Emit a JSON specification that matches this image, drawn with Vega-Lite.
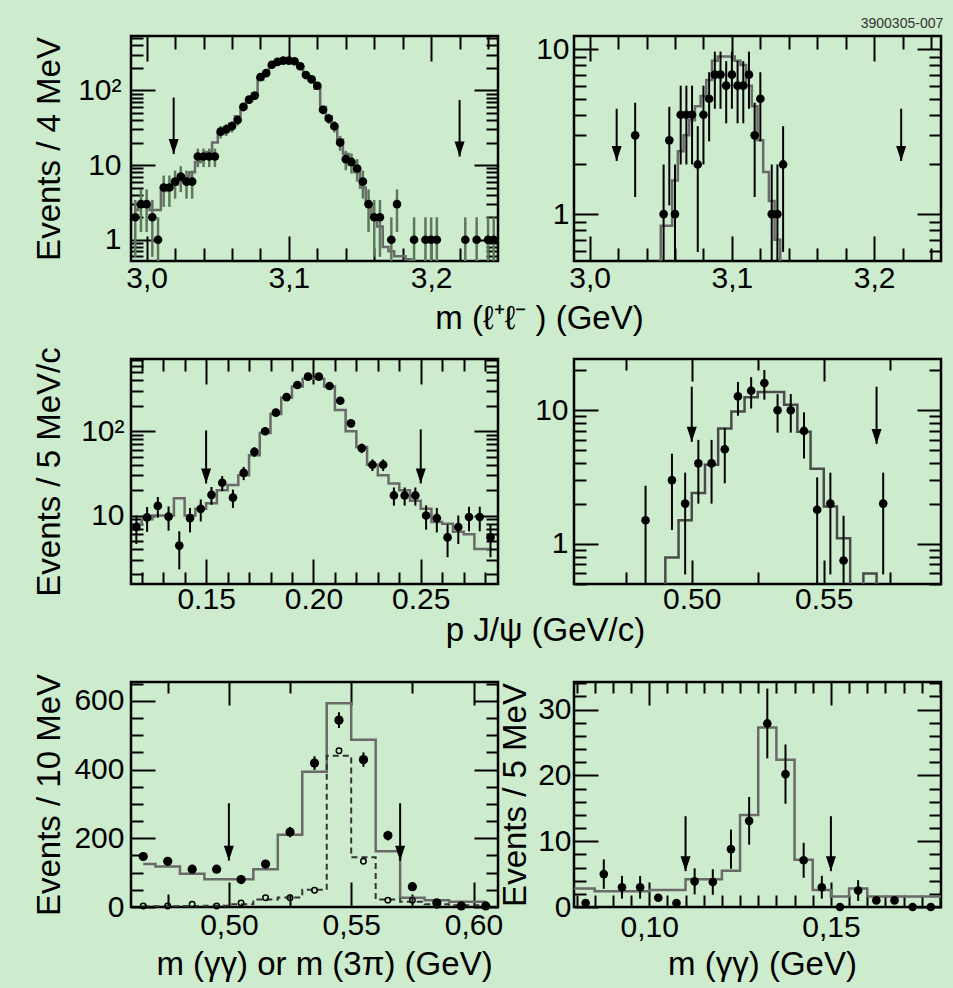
{
"$schema": "https://vega.github.io/schema/vega-lite/v6.json",
"background": "#cdeccd",
"padding": {"left": 31, "top": 16, "right": 12, "bottom": 8},
"title": {"text": "3900305-007", "anchor": "end", "fontSize": 14, "fontWeight": "normal", "font": "Liberation Sans", "color": "#333333", "offset": -9},
"columns": 2,
"spacing": {"row": 98, "column": 76},
"bounds": "flush",
"datasets": {
"p1": [
{"x":2.992,"v":2,"lo":0.59,"hi":3.41,"mc":2.5},
{"x":2.996,"v":3,"lo":1.27,"hi":4.73,"mc":2.8},
{"x":3.0,"v":3,"lo":1.27,"hi":4.73,"mc":2.8},
{"x":3.004,"v":2,"lo":0.59,"hi":3.41,"mc":2.5},
{"x":3.008,"v":1,"lo":0.01,"hi":2,"mc":2.5},
{"x":3.012,"v":5,"lo":2.76,"hi":7.24,"mc":4.5},
{"x":3.016,"v":5,"lo":2.76,"hi":7.24,"mc":5},
{"x":3.02,"v":6,"lo":3.55,"hi":8.45,"mc":5.5},
{"x":3.024,"v":7,"lo":4.35,"hi":9.65,"mc":6},
{"x":3.028,"v":6,"lo":3.55,"hi":8.45,"mc":7},
{"x":3.032,"v":6,"lo":3.55,"hi":8.45,"mc":8},
{"x":3.036,"v":13,"lo":9.39,"hi":16.61,"mc":11},
{"x":3.04,"v":13,"lo":9.39,"hi":16.61,"mc":13},
{"x":3.044,"v":13,"lo":9.39,"hi":16.61,"mc":15},
{"x":3.048,"v":13,"lo":9.39,"hi":16.61,"mc":20},
{"x":3.052,"v":28,"lo":22.7,"hi":33.3,"mc":26},
{"x":3.056,"v":30,"lo":24.5,"hi":35.5,"mc":30},
{"x":3.06,"v":33,"lo":27.3,"hi":38.7,"mc":36},
{"x":3.064,"v":40,"lo":33.7,"hi":46.3,"mc":45},
{"x":3.068,"v":60,"lo":52.3,"hi":67.7,"mc":58},
{"x":3.072,"v":75,"lo":66.3,"hi":83.7,"mc":72},
{"x":3.076,"v":85,"lo":75.8,"hi":94.2,"mc":90},
{"x":3.08,"v":150,"lo":137.8,"hi":162.2,"mc":140},
{"x":3.084,"v":170,"lo":157,"hi":183,"mc":165},
{"x":3.088,"v":220,"lo":205.2,"hi":234.8,"mc":215},
{"x":3.092,"v":240,"lo":224.5,"hi":255.5,"mc":240},
{"x":3.096,"v":250,"lo":234.2,"hi":265.8,"mc":250},
{"x":3.1,"v":250,"lo":234.2,"hi":265.8,"mc":250},
{"x":3.104,"v":245,"lo":229.3,"hi":260.7,"mc":240},
{"x":3.108,"v":210,"lo":195.5,"hi":224.5,"mc":205},
{"x":3.112,"v":160,"lo":147.4,"hi":172.6,"mc":165},
{"x":3.116,"v":140,"lo":128.2,"hi":151.8,"mc":135},
{"x":3.12,"v":115,"lo":104.3,"hi":125.7,"mc":105},
{"x":3.124,"v":55,"lo":47.6,"hi":62.4,"mc":60},
{"x":3.128,"v":42,"lo":35.5,"hi":48.5,"mc":45},
{"x":3.132,"v":33,"lo":27.3,"hi":38.7,"mc":32},
{"x":3.136,"v":20,"lo":15.5,"hi":24.5,"mc":22},
{"x":3.14,"v":12,"lo":8.5,"hi":15.5,"mc":14},
{"x":3.144,"v":11,"lo":7.7,"hi":14.3,"mc":10},
{"x":3.148,"v":9,"lo":6,"hi":12,"mc":8},
{"x":3.152,"v":6,"lo":3.55,"hi":8.45,"mc":5},
{"x":3.156,"v":3,"lo":1.27,"hi":4.73,"mc":3},
{"x":3.16,"v":2,"lo":0.59,"hi":3.41,"mc":2},
{"x":3.164,"v":2,"lo":0.59,"hi":3.41,"mc":1.5},
{"x":3.168,"mc":0.8},
{"x":3.172,"v":1,"lo":0.01,"hi":2,"mc":0.7},
{"x":3.176,"v":3,"lo":1.27,"hi":4.73,"mc":0.6},
{"x":3.18,"mc":0.6},
{"x":3.184,"mc":0.55},
{"x":3.188,"v":1,"lo":0.01,"hi":2,"mc":0.3},
{"x":3.196,"v":1,"lo":0.01,"hi":2,"mc":0.3},
{"x":3.2,"v":1,"lo":0.01,"hi":2,"mc":0.3},
{"x":3.204,"v":1,"lo":0.01,"hi":2,"mc":0.3},
{"x":3.224,"v":1,"lo":0.01,"hi":2,"mc":0.3},
{"x":3.232,"v":1,"lo":0.01,"hi":2,"mc":0.3},
{"x":3.24,"v":1,"lo":0.01,"hi":2,"mc":0.3},
{"x":3.244,"v":1,"lo":0.01,"hi":2,"mc":0.3}
],
"p2": [
{"x":3.028,"mc":0.3},
{"x":3.032,"v":3,"lo":1.27,"hi":4.73,"mc":0.3},
{"x":3.048,"mc":0.3},
{"x":3.052,"v":1,"lo":0.01,"hi":2,"mc":0.85},
{"x":3.056,"v":2.8,"lo":1.13,"hi":4.47,"mc":0.85},
{"x":3.06,"v":1,"lo":0.01,"hi":2,"mc":1.6},
{"x":3.064,"v":4,"lo":2,"hi":6,"mc":2.4},
{"x":3.068,"v":4,"lo":2,"hi":6,"mc":3.0},
{"x":3.072,"v":4,"lo":2,"hi":6,"mc":3.7},
{"x":3.076,"v":2,"lo":0.59,"hi":3.41,"mc":4.5},
{"x":3.08,"v":4,"lo":2,"hi":6,"mc":5.2},
{"x":3.084,"v":5,"lo":2.76,"hi":7.24,"mc":6.5},
{"x":3.088,"v":7,"lo":4.35,"hi":9.65,"mc":8.5},
{"x":3.092,"v":7,"lo":4.35,"hi":9.65,"mc":9},
{"x":3.096,"v":6,"lo":3.55,"hi":8.45,"mc":9},
{"x":3.1,"v":7,"lo":4.35,"hi":9.65,"mc":9},
{"x":3.104,"v":6,"lo":3.55,"hi":8.45,"mc":8.5},
{"x":3.108,"v":6,"lo":3.55,"hi":8.45,"mc":8},
{"x":3.112,"v":7,"lo":4.35,"hi":9.65,"mc":6},
{"x":3.116,"v":3,"lo":1.27,"hi":4.73,"mc":4.5},
{"x":3.12,"v":5,"lo":2.76,"hi":7.24,"mc":2.8},
{"x":3.124,"mc":1.8},
{"x":3.128,"v":1,"lo":0.01,"hi":2,"mc":1.2},
{"x":3.132,"v":1,"lo":0.01,"hi":2,"mc":0.7},
{"x":3.136,"v":2,"lo":0.59,"hi":3.41,"mc":0.3},
{"x":3.14,"mc":0.3}
],
"p3": [
{"x":0.1175,"v":7.3,"lo":4.6,"hi":10,"mc":8},
{"x":0.1225,"v":9.5,"lo":6.4,"hi":12.6,"mc":9},
{"x":0.1275,"v":13,"lo":9.4,"hi":16.6,"mc":10},
{"x":0.1325,"v":9.7,"lo":6.6,"hi":12.8,"mc":10},
{"x":0.1375,"v":4.4,"lo":2.3,"hi":6.5,"mc":16},
{"x":0.1425,"v":9.3,"lo":6.3,"hi":12.3,"mc":10},
{"x":0.1475,"v":12,"lo":8.5,"hi":15.5,"mc":12},
{"x":0.1525,"v":17.6,"lo":13.4,"hi":21.8,"mc":14},
{"x":0.1575,"v":24.5,"lo":19.6,"hi":29.4,"mc":20},
{"x":0.1625,"v":16.3,"lo":12.3,"hi":20.3,"mc":23},
{"x":0.1675,"v":32,"lo":26.3,"hi":37.7,"mc":30},
{"x":0.1725,"v":57,"lo":49.5,"hi":64.5,"mc":52},
{"x":0.1775,"v":100,"lo":90,"hi":110,"mc":95},
{"x":0.1825,"v":166,"lo":153,"hi":179,"mc":160},
{"x":0.1875,"v":254,"lo":238,"hi":270,"mc":250},
{"x":0.1925,"v":353,"lo":334,"hi":372,"mc":340},
{"x":0.1975,"v":445,"lo":424,"hi":466,"mc":420},
{"x":0.2025,"v":445,"lo":424,"hi":466,"mc":420},
{"x":0.2075,"v":344,"lo":325,"hi":363,"mc":340},
{"x":0.2125,"v":230,"lo":215,"hi":245,"mc":178},
{"x":0.2175,"v":124,"lo":113,"hi":135,"mc":100},
{"x":0.2225,"v":63,"lo":55,"hi":71,"mc":65},
{"x":0.2275,"v":40,"lo":33.7,"hi":46.3,"mc":40},
{"x":0.2325,"v":40,"lo":33.7,"hi":46.3,"mc":30},
{"x":0.2375,"v":17.3,"lo":13.1,"hi":21.5,"mc":24},
{"x":0.2425,"v":17.3,"lo":13.1,"hi":21.5,"mc":20},
{"x":0.2475,"v":17.3,"lo":13.1,"hi":21.5,"mc":15},
{"x":0.2525,"v":10,"lo":6.8,"hi":13.2,"mc":12},
{"x":0.2575,"v":9.3,"lo":6.3,"hi":12.3,"mc":8.4},
{"x":0.2625,"v":5.5,"lo":3.2,"hi":7.8,"mc":8},
{"x":0.2675,"v":7.3,"lo":4.6,"hi":10,"mc":6.4},
{"x":0.2725,"v":9.6,"lo":6.5,"hi":12.7,"mc":6},
{"x":0.2775,"v":9.6,"lo":6.5,"hi":12.7,"mc":4},
{"x":0.2825,"v":5.5,"lo":3.2,"hi":7.8,"mc":4}
],
"p4": [
{"x":0.4775,"mc":0.3},
{"x":0.4825,"v":1.5,"lo":0.28,"hi":2.72,"mc":0.3},
{"x":0.4875,"mc":0.3},
{"x":0.4925,"v":3.0,"lo":1.27,"hi":4.73,"mc":0.79},
{"x":0.4975,"v":2.0,"lo":0.59,"hi":3.41,"mc":1.5},
{"x":0.5025,"v":4.0,"lo":2,"hi":6,"mc":2.4},
{"x":0.5075,"v":4.0,"lo":2,"hi":6,"mc":3.9},
{"x":0.5125,"v":5.1,"lo":2.84,"hi":7.36,"mc":7.3},
{"x":0.5175,"v":12.7,"lo":9.1,"hi":16.3,"mc":9.8},
{"x":0.5225,"v":14,"lo":10.3,"hi":17.7,"mc":12.5},
{"x":0.5275,"v":16,"lo":12,"hi":20,"mc":13.7},
{"x":0.5325,"v":10,"lo":6.8,"hi":13.2,"mc":13.7},
{"x":0.5375,"v":10,"lo":6.8,"hi":13.2,"mc":11},
{"x":0.5425,"v":7,"lo":4.35,"hi":9.65,"mc":6.9},
{"x":0.5475,"v":1.8,"lo":0.46,"hi":3.14,"mc":3.65},
{"x":0.5525,"v":2.0,"lo":0.59,"hi":3.41,"mc":1.9},
{"x":0.5575,"v":0.75,"lo":0.01,"hi":1.62,"mc":1.1},
{"x":0.5625,"mc":0.3},
{"x":0.5675,"mc":0.6},
{"x":0.5725,"v":2.0,"lo":0.59,"hi":3.41,"mc":0.3},
{"x":0.5775,"mc":0.3}
],
"p5": [
{"x":0.465,"g":147,"lo":135,"hi":159,"o":3,"gh":125,"oh":2},
{"x":0.475,"g":133,"lo":121.5,"hi":144.5,"o":3,"gh":118,"oh":2},
{"x":0.485,"g":110,"lo":99.5,"hi":120.5,"o":8,"gh":97,"oh":3},
{"x":0.495,"g":110,"lo":99.5,"hi":120.5,"o":3,"gh":81,"oh":4},
{"x":0.505,"g":80,"lo":71,"hi":89,"o":12,"gh":81,"oh":8},
{"x":0.515,"g":125,"lo":114,"hi":136,"o":27,"gh":110,"oh":22},
{"x":0.525,"g":218,"lo":203,"hi":233,"o":27,"gh":210,"oh":28},
{"x":0.535,"g":419,"lo":399,"hi":439,"o":49,"gh":394,"oh":50},
{"x":0.545,"g":544,"lo":521,"hi":567,"o":455,"gh":593,"oh":440},
{"x":0.555,"g":429,"lo":408,"hi":450,"o":133,"gh":487,"oh":145},
{"x":0.565,"g":208,"lo":194,"hi":222,"o":20,"gh":162,"oh":22},
{"x":0.575,"g":59,"lo":51,"hi":67,"o":20,"gh":27,"oh":15},
{"x":0.585,"g":12,"lo":8.5,"hi":15.5,"o":5,"gh":20,"oh":8},
{"x":0.595,"g":3,"lo":1.3,"hi":4.7,"o":3,"gh":15,"oh":5},
{"x":0.605,"g":3,"lo":1.3,"hi":4.7,"o":3,"gh":15,"oh":5}
],
"p6": [
{"x":0.0775,"mc":2.8},
{"x":0.0825,"v":0.6,"lo":0.6,"hi":0.6,"mc":2.8},
{"x":0.0875,"v":5.0,"lo":2.76,"hi":7.24,"mc":2.4},
{"x":0.0925,"v":3,"lo":1.27,"hi":4.73,"mc":2.4},
{"x":0.0975,"v":3,"lo":1.27,"hi":4.73,"mc":2.4},
{"x":0.1025,"v":1.4,"lo":1.4,"hi":1.4,"mc":2.6},
{"x":0.1075,"v":0.6,"lo":0.6,"hi":0.6,"mc":2.6},
{"x":0.1125,"v":3.9,"lo":1.93,"hi":5.87,"mc":4.2},
{"x":0.1175,"v":3.8,"lo":1.85,"hi":5.75,"mc":4.2},
{"x":0.1225,"v":8.8,"lo":5.83,"hi":11.77,"mc":5.5},
{"x":0.1275,"v":13.1,"lo":9.48,"hi":16.72,"mc":14},
{"x":0.1325,"v":27.9,"lo":22.6,"hi":33.2,"mc":27.3},
{"x":0.1375,"v":20.2,"lo":15.7,"hi":24.7,"mc":22.4},
{"x":0.1425,"v":7.1,"lo":4.44,"hi":9.76,"mc":7.2},
{"x":0.1475,"v":3.0,"lo":1.27,"hi":4.73,"mc":2.6},
{"x":0.1525,"v":0,"lo":0,"hi":0,"mc":1.6},
{"x":0.1575,"v":2.5,"lo":0.92,"hi":4.08,"mc":2.8},
{"x":0.1625,"v":1,"lo":1,"hi":1,"mc":1.6},
{"x":0.1675,"v":1,"lo":1,"hi":1,"mc":1.6},
{"x":0.1725,"v":0,"lo":0,"hi":0,"mc":1.6},
{"x":0.1775,"v":0,"lo":0,"hi":0,"mc":1.6},
{"x":0.1825,"mc":1.6}
],
"a1": [{"x":3.019,"top":80,"tip":14},{"x":3.22,"top":74,"tip":13}],
"a2": [{"x":3.019,"top":4.35,"tip":2.1},{"x":3.219,"top":4.35,"tip":2.1}],
"a3": [{"x":0.15,"top":102,"tip":24},{"x":0.25,"top":105,"tip":24}],
"a4": [{"x":0.5,"top":15,"tip":5.8},{"x":0.57,"top":15,"tip":5.6}],
"a5": [{"x":0.5,"top":302,"tip":135},{"x":0.57,"top":302,"tip":135}],
"a6": [{"x":0.11,"top":13.8,"tip":5.45},{"x":0.15,"top":13.8,"tip":5.45}]
},
"concat": [
{
"width": 367, "height": 225,
"data": {"name": "p1"},
"resolve": {"axis": {"x": "independent", "y": "independent"}},
"layer": [
{"mark": {"type": "line", "interpolate": "step", "clip": true, "color": "#6a6a6a", "strokeWidth": 2.5},
 "encoding": {
  "x": {"field": "x", "type": "quantitative", "scale": {"domain": [2.989, 3.247], "nice": false, "zero": false},
   "axis": {"orient": "bottom", "values": [3,3.02,3.04,3.06,3.08,3.1,3.12,3.14,3.16,3.18,3.2,3.22,3.24], "labelExpr": "datum.value==3?'3,0':datum.value==3.1?'3,1':datum.value==3.2?'3,2':''", "tickSize": {"condition": {"test": "datum.value==3||datum.value==3.1||datum.value==3.2", "value": -25}, "value": -13}, "labelPadding": 27, "title": "m (ℓ⁺ℓ⁻ ) (GeV)", "titleX": 408, "titleY": 67, "titleAlign": "center", "titleBaseline": "alphabetic"}},
  "y": {"field": "mc", "type": "quantitative", "scale": {"type": "log", "domain": [0.52, 533], "nice": false},
   "axis": {"orient": "left", "values": [0.6,0.7,0.8,0.9,1,2,3,4,5,6,7,8,9,10,20,30,40,50,60,70,80,90,100,200,300,400,500], "labelExpr": "datum.value==1?'1':datum.value==10?'10':datum.value==100?'10²':''", "tickSize": {"condition": {"test": "datum.value==1||datum.value==10||datum.value==100", "value": -24}, "value": -12}, "labelPadding": 34, "title": "Events / 4 MeV", "titleX": -72, "titleBaseline": "alphabetic"}}
 }},
{"mark": {"type": "rule", "clip": true, "color": "#5f775d", "strokeWidth": 2.5},
 "encoding": {
  "x": {"field": "x", "type": "quantitative", "scale": {"domain": [2.989, 3.247], "nice": false, "zero": false},
   "axis": {"orient": "top", "values": [3,3.02,3.04,3.06,3.08,3.1,3.12,3.14,3.16,3.18,3.2,3.22,3.24], "labels": false, "title": null, "tickSize": {"condition": {"test": "datum.value==3||datum.value==3.1||datum.value==3.2", "value": -25}, "value": -13}}},
  "y": {"field": "lo", "type": "quantitative", "scale": {"type": "log", "domain": [0.52, 533], "nice": false},
   "axis": {"orient": "right", "values": [0.6,0.7,0.8,0.9,1,2,3,4,5,6,7,8,9,10,20,30,40,50,60,70,80,90,100,200,300,400,500], "labels": false, "title": null, "tickSize": {"condition": {"test": "datum.value==1||datum.value==10||datum.value==100", "value": -24}, "value": -12}}},
  "y2": {"field": "hi"}
 }},
{"mark": {"type": "point", "shape": "circle", "filled": true, "color": "black", "size": 75, "opacity": 1, "clip": true},
 "encoding": {
  "x": {"field": "x", "type": "quantitative", "scale": {"domain": [2.989, 3.247], "nice": false, "zero": false}, "axis": null},
  "y": {"field": "v", "type": "quantitative", "scale": {"type": "log", "domain": [0.52, 533], "nice": false}, "axis": null}
 }},
{"data": {"name": "a1"}, "mark": {"type": "rule", "color": "black", "strokeWidth": 2},
 "encoding": {
  "x": {"field": "x", "type": "quantitative", "scale": {"domain": [2.989, 3.247], "nice": false, "zero": false}, "axis": null},
  "y": {"field": "top", "type": "quantitative", "scale": {"type": "log", "domain": [0.52, 533], "nice": false}, "axis": null},
  "y2": {"field": "tip"}
 }},
{"data": {"name": "a1"}, "mark": {"type": "point", "shape": "M-1,-3L1,-3L0,0Z", "filled": true, "color": "black", "size": 100, "opacity": 1},
 "encoding": {
  "x": {"field": "x", "type": "quantitative", "scale": {"domain": [2.989, 3.247], "nice": false, "zero": false}, "axis": null},
  "y": {"field": "tip", "type": "quantitative", "scale": {"type": "log", "domain": [0.52, 533], "nice": false}, "axis": null}
 }}
]
},
{
"width": 367, "height": 225,
"data": {"name": "p2"},
"resolve": {"axis": {"x": "independent", "y": "independent"}},
"layer": [
{"mark": {"type": "line", "interpolate": "step", "clip": true, "color": "#6a6a6a", "strokeWidth": 2.5},
 "encoding": {
  "x": {"field": "x", "type": "quantitative", "scale": {"domain": [2.989, 3.247], "nice": false, "zero": false},
   "axis": {"orient": "bottom", "values": [3,3.02,3.04,3.06,3.08,3.1,3.12,3.14,3.16,3.18,3.2,3.22,3.24], "labelExpr": "datum.value==3?'3,0':datum.value==3.1?'3,1':datum.value==3.2?'3,2':''", "tickSize": {"condition": {"test": "datum.value==3||datum.value==3.1||datum.value==3.2", "value": -25}, "value": -13}, "labelPadding": 27, "title": null}},
  "y": {"field": "mc", "type": "quantitative", "scale": {"type": "log", "domain": [0.52, 12], "nice": false},
   "axis": {"orient": "left", "values": [0.6,0.7,0.8,0.9,1,2,3,4,5,6,7,8,9,10], "labelExpr": "datum.value==1?'1':datum.value==10?'10':''", "tickSize": {"condition": {"test": "datum.value==1||datum.value==10", "value": -24}, "value": -12}, "labelPadding": 29, "title": null}}
 }},
{"mark": {"type": "rule", "clip": true, "color": "black", "strokeWidth": 2},
 "encoding": {
  "x": {"field": "x", "type": "quantitative", "scale": {"domain": [2.989, 3.247], "nice": false, "zero": false},
   "axis": {"orient": "top", "values": [3,3.02,3.04,3.06,3.08,3.1,3.12,3.14,3.16,3.18,3.2,3.22,3.24], "labels": false, "title": null, "tickSize": {"condition": {"test": "datum.value==3||datum.value==3.1||datum.value==3.2", "value": -25}, "value": -13}}},
  "y": {"field": "lo", "type": "quantitative", "scale": {"type": "log", "domain": [0.52, 12], "nice": false},
   "axis": {"orient": "right", "values": [0.6,0.7,0.8,0.9,1,2,3,4,5,6,7,8,9,10], "labels": false, "title": null, "tickSize": {"condition": {"test": "datum.value==1||datum.value==10", "value": -24}, "value": -12}}},
  "y2": {"field": "hi"}
 }},
{"mark": {"type": "point", "shape": "circle", "filled": true, "color": "black", "size": 75, "opacity": 1, "clip": true},
 "encoding": {
  "x": {"field": "x", "type": "quantitative", "scale": {"domain": [2.989, 3.247], "nice": false, "zero": false}, "axis": null},
  "y": {"field": "v", "type": "quantitative", "scale": {"type": "log", "domain": [0.52, 12], "nice": false}, "axis": null}
 }},
{"data": {"name": "a2"}, "mark": {"type": "rule", "color": "black", "strokeWidth": 2},
 "encoding": {
  "x": {"field": "x", "type": "quantitative", "scale": {"domain": [2.989, 3.247], "nice": false, "zero": false}, "axis": null},
  "y": {"field": "top", "type": "quantitative", "scale": {"type": "log", "domain": [0.52, 12], "nice": false}, "axis": null},
  "y2": {"field": "tip"}
 }},
{"data": {"name": "a2"}, "mark": {"type": "point", "shape": "M-1,-3L1,-3L0,0Z", "filled": true, "color": "black", "size": 100, "opacity": 1},
 "encoding": {
  "x": {"field": "x", "type": "quantitative", "scale": {"domain": [2.989, 3.247], "nice": false, "zero": false}, "axis": null},
  "y": {"field": "tip", "type": "quantitative", "scale": {"type": "log", "domain": [0.52, 12], "nice": false}, "axis": null}
 }}
]
},
{
"width": 367, "height": 225,
"data": {"name": "p3"},
"resolve": {"axis": {"x": "independent", "y": "independent"}},
"layer": [
{"mark": {"type": "line", "interpolate": "step", "clip": true, "color": "#6a6a6a", "strokeWidth": 2.5},
 "encoding": {
  "x": {"field": "x", "type": "quantitative", "scale": {"domain": [0.115, 0.286], "nice": false, "zero": false},
   "axis": {"orient": "bottom", "values": [0.12,0.13,0.14,0.15,0.16,0.17,0.18,0.19,0.2,0.21,0.22,0.23,0.24,0.25,0.26,0.27,0.28], "labelExpr": "datum.value==0.15?'0.15':datum.value==0.2?'0.20':datum.value==0.25?'0.25':''", "tickSize": {"condition": {"test": "datum.value==0.15||datum.value==0.2||datum.value==0.25", "value": -25}, "value": -12}, "labelPadding": 25, "title": "p J/ψ (GeV/c)", "titleX": 414, "titleY": 56, "titleAlign": "center", "titleBaseline": "alphabetic"}},
  "y": {"field": "mc", "type": "quantitative", "scale": {"type": "log", "domain": [1.54, 719], "nice": false},
   "axis": {"orient": "left", "values": [2,3,4,5,6,7,8,9,10,20,30,40,50,60,70,80,90,100,200,300,400,500,600,700], "labelExpr": "datum.value==10?'10':datum.value==100?'10²':''", "tickSize": {"condition": {"test": "datum.value==10||datum.value==100", "value": -24}, "value": -12}, "labelPadding": 31, "title": "Events / 5 MeV/c", "titleX": -72, "titleBaseline": "alphabetic"}}
 }},
{"mark": {"type": "rule", "clip": true, "color": "black", "strokeWidth": 2},
 "encoding": {
  "x": {"field": "x", "type": "quantitative", "scale": {"domain": [0.115, 0.286], "nice": false, "zero": false},
   "axis": {"orient": "top", "values": [0.12,0.13,0.14,0.15,0.16,0.17,0.18,0.19,0.2,0.21,0.22,0.23,0.24,0.25,0.26,0.27,0.28], "labels": false, "title": null, "tickSize": {"condition": {"test": "datum.value==0.15||datum.value==0.2||datum.value==0.25", "value": -25}, "value": -12}}},
  "y": {"field": "lo", "type": "quantitative", "scale": {"type": "log", "domain": [1.54, 719], "nice": false},
   "axis": {"orient": "right", "values": [2,3,4,5,6,7,8,9,10,20,30,40,50,60,70,80,90,100,200,300,400,500,600,700], "labels": false, "title": null, "tickSize": {"condition": {"test": "datum.value==10||datum.value==100", "value": -24}, "value": -12}}},
  "y2": {"field": "hi"}
 }},
{"mark": {"type": "point", "shape": "circle", "filled": true, "color": "black", "size": 75, "opacity": 1, "clip": true},
 "encoding": {
  "x": {"field": "x", "type": "quantitative", "scale": {"domain": [0.115, 0.286], "nice": false, "zero": false}, "axis": null},
  "y": {"field": "v", "type": "quantitative", "scale": {"type": "log", "domain": [1.54, 719], "nice": false}, "axis": null}
 }},
{"data": {"name": "a3"}, "mark": {"type": "rule", "color": "black", "strokeWidth": 2},
 "encoding": {
  "x": {"field": "x", "type": "quantitative", "scale": {"domain": [0.115, 0.286], "nice": false, "zero": false}, "axis": null},
  "y": {"field": "top", "type": "quantitative", "scale": {"type": "log", "domain": [1.54, 719], "nice": false}, "axis": null},
  "y2": {"field": "tip"}
 }},
{"data": {"name": "a3"}, "mark": {"type": "point", "shape": "M-1,-3L1,-3L0,0Z", "filled": true, "color": "black", "size": 100, "opacity": 1},
 "encoding": {
  "x": {"field": "x", "type": "quantitative", "scale": {"domain": [0.115, 0.286], "nice": false, "zero": false}, "axis": null},
  "y": {"field": "tip", "type": "quantitative", "scale": {"type": "log", "domain": [1.54, 719], "nice": false}, "axis": null}
 }}
]
},
{
"width": 367, "height": 225,
"data": {"name": "p4"},
"resolve": {"axis": {"x": "independent", "y": "independent"}},
"layer": [
{"mark": {"type": "line", "interpolate": "step", "clip": true, "color": "#4a4a4a", "strokeWidth": 2.5},
 "encoding": {
  "x": {"field": "x", "type": "quantitative", "scale": {"domain": [0.4554, 0.5944], "nice": false, "zero": false},
   "axis": {"orient": "bottom", "values": [0.475,0.5,0.525,0.55,0.575], "labelExpr": "datum.value==0.5?'0.50':datum.value==0.55?'0.55':''", "tickSize": {"condition": {"test": "datum.value==0.5||datum.value==0.55", "value": -24}, "value": -12}, "labelPadding": 24, "title": null}},
  "y": {"field": "mc", "type": "quantitative", "scale": {"type": "log", "domain": [0.5, 24.2], "nice": false},
   "axis": {"orient": "left", "values": [0.5,0.6,0.7,0.8,0.9,1,2,3,4,5,6,7,8,9,10,20], "labelExpr": "datum.value==1?'1':datum.value==10?'10':''", "tickSize": {"condition": {"test": "datum.value==1||datum.value==10", "value": -24}, "value": -12}, "labelPadding": 30, "title": null}}
 }},
{"mark": {"type": "rule", "clip": true, "color": "black", "strokeWidth": 2},
 "encoding": {
  "x": {"field": "x", "type": "quantitative", "scale": {"domain": [0.4554, 0.5944], "nice": false, "zero": false},
   "axis": {"orient": "top", "values": [0.475,0.5,0.525,0.55,0.575], "labels": false, "title": null, "tickSize": {"condition": {"test": "datum.value==0.5||datum.value==0.55", "value": -22}, "value": -11}}},
  "y": {"field": "lo", "type": "quantitative", "scale": {"type": "log", "domain": [0.5, 24.2], "nice": false},
   "axis": {"orient": "right", "values": [0.5,0.6,0.7,0.8,0.9,1,2,3,4,5,6,7,8,9,10,20], "labels": false, "title": null, "tickSize": {"condition": {"test": "datum.value==1||datum.value==10", "value": -24}, "value": -12}}},
  "y2": {"field": "hi"}
 }},
{"mark": {"type": "point", "shape": "circle", "filled": true, "color": "black", "size": 75, "opacity": 1, "clip": true},
 "encoding": {
  "x": {"field": "x", "type": "quantitative", "scale": {"domain": [0.4554, 0.5944], "nice": false, "zero": false}, "axis": null},
  "y": {"field": "v", "type": "quantitative", "scale": {"type": "log", "domain": [0.5, 24.2], "nice": false}, "axis": null}
 }},
{"data": {"name": "a4"}, "mark": {"type": "rule", "color": "black", "strokeWidth": 2},
 "encoding": {
  "x": {"field": "x", "type": "quantitative", "scale": {"domain": [0.4554, 0.5944], "nice": false, "zero": false}, "axis": null},
  "y": {"field": "top", "type": "quantitative", "scale": {"type": "log", "domain": [0.5, 24.2], "nice": false}, "axis": null},
  "y2": {"field": "tip"}
 }},
{"data": {"name": "a4"}, "mark": {"type": "point", "shape": "M-1,-3L1,-3L0,0Z", "filled": true, "color": "black", "size": 100, "opacity": 1},
 "encoding": {
  "x": {"field": "x", "type": "quantitative", "scale": {"domain": [0.4554, 0.5944], "nice": false, "zero": false}, "axis": null},
  "y": {"field": "tip", "type": "quantitative", "scale": {"type": "log", "domain": [0.5, 24.2], "nice": false}, "axis": null}
 }}
]
},
{
"width": 367, "height": 225,
"data": {"name": "p5"},
"resolve": {"axis": {"x": "independent", "y": "independent"}},
"layer": [
{"mark": {"type": "line", "interpolate": "step", "clip": true, "color": "#6a6a6a", "strokeWidth": 2.5},
 "encoding": {
  "x": {"field": "x", "type": "quantitative", "scale": {"domain": [0.46, 0.61], "nice": false, "zero": false},
   "axis": {"orient": "bottom", "values": [0.475,0.5,0.525,0.55,0.575,0.6], "labelExpr": "datum.value==0.5?'0,50':datum.value==0.55?'0,55':datum.value==0.6?'0,60':''", "tickSize": {"condition": {"test": "datum.value==0.5||datum.value==0.55||datum.value==0.6", "value": -25}, "value": -13}, "labelPadding": 28, "title": "m (γγ) or m (3π) (GeV)", "titleX": 193, "titleY": 67, "titleAlign": "center", "titleBaseline": "alphabetic"}},
  "y": {"field": "gh", "type": "quantitative", "scale": {"domain": [0, 655], "nice": false},
   "axis": {"orient": "left", "values": [0,50,100,150,200,250,300,350,400,450,500,550,600,650], "labelExpr": "datum.value%200==0?''+datum.value:''", "tickSize": {"condition": {"test": "datum.value%200==0", "value": -24}, "value": -12}, "labelPadding": 31, "title": "Events / 10 MeV", "titleX": -72, "titleBaseline": "alphabetic"}}
 }},
{"mark": {"type": "line", "interpolate": "step", "clip": true, "color": "#333333", "strokeWidth": 2, "strokeDash": [6, 4]},
 "encoding": {
  "x": {"field": "x", "type": "quantitative", "scale": {"domain": [0.46, 0.61], "nice": false, "zero": false},
   "axis": {"orient": "top", "values": [0.475,0.5,0.525,0.55,0.575,0.6], "labels": false, "title": null, "tickSize": {"condition": {"test": "datum.value==0.5||datum.value==0.55||datum.value==0.6", "value": -23}, "value": -11}}},
  "y": {"field": "oh", "type": "quantitative", "scale": {"domain": [0, 655], "nice": false},
   "axis": {"orient": "right", "values": [0,50,100,150,200,250,300,350,400,450,500,550,600,650], "labels": false, "title": null, "tickSize": {"condition": {"test": "datum.value%200==0", "value": -24}, "value": -12}}}
 }},
{"mark": {"type": "rule", "clip": true, "color": "black", "strokeWidth": 2},
 "encoding": {
  "x": {"field": "x", "type": "quantitative", "scale": {"domain": [0.46, 0.61], "nice": false, "zero": false}, "axis": null},
  "y": {"field": "lo", "type": "quantitative", "scale": {"domain": [0, 655], "nice": false}, "axis": null},
  "y2": {"field": "hi"}
 }},
{"mark": {"type": "point", "shape": "circle", "filled": false, "color": "black", "size": 30, "strokeWidth": 1.5, "opacity": 1},
 "encoding": {
  "x": {"field": "x", "type": "quantitative", "scale": {"domain": [0.46, 0.61], "nice": false, "zero": false}, "axis": null},
  "y": {"field": "o", "type": "quantitative", "scale": {"domain": [0, 655], "nice": false}, "axis": null}
 }},
{"mark": {"type": "point", "shape": "circle", "filled": true, "color": "black", "size": 85, "opacity": 1},
 "encoding": {
  "x": {"field": "x", "type": "quantitative", "scale": {"domain": [0.46, 0.61], "nice": false, "zero": false}, "axis": null},
  "y": {"field": "g", "type": "quantitative", "scale": {"domain": [0, 655], "nice": false}, "axis": null}
 }},
{"data": {"name": "a5"}, "mark": {"type": "rule", "color": "black", "strokeWidth": 2},
 "encoding": {
  "x": {"field": "x", "type": "quantitative", "scale": {"domain": [0.46, 0.61], "nice": false, "zero": false}, "axis": null},
  "y": {"field": "top", "type": "quantitative", "scale": {"domain": [0, 655], "nice": false}, "axis": null},
  "y2": {"field": "tip"}
 }},
{"data": {"name": "a5"}, "mark": {"type": "point", "shape": "M-1,-3L1,-3L0,0Z", "filled": true, "color": "black", "size": 100, "opacity": 1},
 "encoding": {
  "x": {"field": "x", "type": "quantitative", "scale": {"domain": [0.46, 0.61], "nice": false, "zero": false}, "axis": null},
  "y": {"field": "tip", "type": "quantitative", "scale": {"domain": [0, 655], "nice": false}, "axis": null}
 }}
]
},
{
"width": 367, "height": 225,
"data": {"name": "p6"},
"resolve": {"axis": {"x": "independent", "y": "independent"}},
"layer": [
{"mark": {"type": "line", "interpolate": "step", "clip": true, "color": "#6a6a6a", "strokeWidth": 2.5},
 "encoding": {
  "x": {"field": "x", "type": "quantitative", "scale": {"domain": [0.0793, 0.1803], "nice": false, "zero": false},
   "axis": {"orient": "bottom", "values": [0.08,0.085,0.09,0.095,0.1,0.105,0.11,0.115,0.12,0.125,0.13,0.135,0.14,0.145,0.15,0.155,0.16,0.165,0.17,0.175,0.18], "labelExpr": "datum.value==0.1?'0,10':datum.value==0.15?'0,15':''", "tickSize": {"condition": {"test": "datum.value==0.1||datum.value==0.15", "value": -25}, "value": -12}, "labelPadding": 30, "title": "m (γγ) (GeV)", "titleX": 188, "titleY": 67, "titleAlign": "center", "titleBaseline": "alphabetic"}},
  "y": {"field": "mc", "type": "quantitative", "scale": {"domain": [0, 34.2], "nice": false},
   "axis": {"orient": "left", "values": [0,2,4,6,8,10,12,14,16,18,20,22,24,26,28,30,32,34], "labelExpr": "datum.value%10==0?''+datum.value:''", "tickSize": {"condition": {"test": "datum.value%10==0", "value": -24}, "value": -12}, "labelPadding": 27, "title": "Events / 5 MeV", "titleX": -49, "titleBaseline": "alphabetic"}}
 }},
{"mark": {"type": "rule", "clip": true, "color": "black", "strokeWidth": 2},
 "encoding": {
  "x": {"field": "x", "type": "quantitative", "scale": {"domain": [0.0793, 0.1803], "nice": false, "zero": false},
   "axis": {"orient": "top", "values": [0.08,0.085,0.09,0.095,0.1,0.105,0.11,0.115,0.12,0.125,0.13,0.135,0.14,0.145,0.15,0.155,0.16,0.165,0.17,0.175,0.18], "labels": false, "title": null, "tickSize": {"condition": {"test": "datum.value==0.1||datum.value==0.15", "value": -23}, "value": -11}}},
  "y": {"field": "lo", "type": "quantitative", "scale": {"domain": [0, 34.2], "nice": false},
   "axis": {"orient": "right", "values": [0,2,4,6,8,10,12,14,16,18,20,22,24,26,28,30,32,34], "labels": false, "title": null, "tickSize": {"condition": {"test": "datum.value%10==0", "value": -24}, "value": -12}}},
  "y2": {"field": "hi"}
 }},
{"mark": {"type": "point", "shape": "circle", "filled": true, "color": "black", "size": 75, "opacity": 1},
 "encoding": {
  "x": {"field": "x", "type": "quantitative", "scale": {"domain": [0.0793, 0.1803], "nice": false, "zero": false}, "axis": null},
  "y": {"field": "v", "type": "quantitative", "scale": {"domain": [0, 34.2], "nice": false}, "axis": null}
 }},
{"data": {"name": "a6"}, "mark": {"type": "rule", "color": "black", "strokeWidth": 2},
 "encoding": {
  "x": {"field": "x", "type": "quantitative", "scale": {"domain": [0.0793, 0.1803], "nice": false, "zero": false}, "axis": null},
  "y": {"field": "top", "type": "quantitative", "scale": {"domain": [0, 34.2], "nice": false}, "axis": null},
  "y2": {"field": "tip"}
 }},
{"data": {"name": "a6"}, "mark": {"type": "point", "shape": "M-1,-3L1,-3L0,0Z", "filled": true, "color": "black", "size": 100, "opacity": 1},
 "encoding": {
  "x": {"field": "x", "type": "quantitative", "scale": {"domain": [0.0793, 0.1803], "nice": false, "zero": false}, "axis": null},
  "y": {"field": "tip", "type": "quantitative", "scale": {"domain": [0, 34.2], "nice": false}, "axis": null}
 }}
]
}
],
"config": {
 "font": "Liberation Sans",
 "view": {"stroke": "black", "strokeWidth": 2.5},
 "axis": {"domain": false, "grid": false, "tickColor": "black", "tickWidth": 2, "labelFont": "Liberation Sans", "labelFontSize": 30, "labelColor": "black", "titleFont": "Liberation Sans", "titleFontSize": 33, "titleFontWeight": "normal", "titleColor": "black", "labelOverlap": false, "labelFlush": false, "labelBound": false}
}
}
